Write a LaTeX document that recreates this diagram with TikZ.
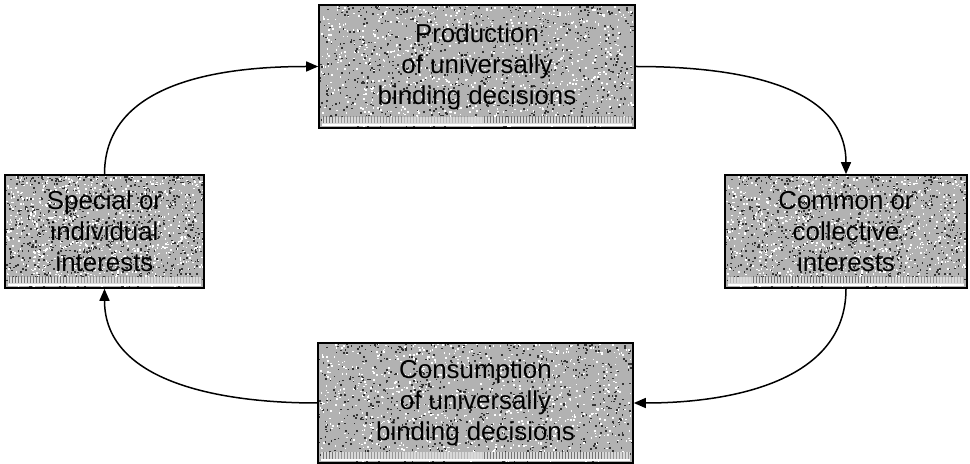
\documentclass[tikz,border=0pt]{standalone}
\usepackage{fontspec}
\setmainfont{Liberation Sans}
\usetikzlibrary{patterns,arrows.meta}
\begin{document}
\begin{tikzpicture}[x=1bp,y=-1bp,
  tbox/.style n args={2}{draw=black, line width=1.6bp, fill=black!30,
    minimum width=#1 bp, minimum height=#2 bp, inner sep=0pt,
    align=center, font=\fontsize{26}{31}\selectfont,
    path picture={
      \pgfmathsetseed{7}
      \foreach \k in {1,...,900}{
        \fill[black!80] ([shift={({rnd*#1},{rnd*#2})}]path picture bounding box.north west) rectangle +(1.6,1.6);
        \fill[white] ([shift={({rnd*#1},{rnd*#2})}]path picture bounding box.north west) rectangle +(1.6,1.6);
      }
      \fill[black!15] ([shift={(3,-3)}]path picture bounding box.south west) rectangle ([shift={(-3,-11)}]path picture bounding box.south east);
      \fill[pattern=vertical lines, pattern color=black!55] ([shift={(3,-5)}]path picture bounding box.south west) rectangle ([shift={(-3,-11)}]path picture bounding box.south east);
      \draw[white, line width=1.2bp] ([shift={(3,-3)}]path picture bounding box.south west) -- ([shift={(-3,-3)}]path picture bounding box.south east);
    }},
  arr/.style={line width=1.5bp, -{Triangle[length=12bp,width=10bp]}}]
\useasboundingbox (0,0) rectangle (970,464);
\node[tbox={316}{123}] (T) at (477,66.5) {Production\\of universally\\binding decisions};
\node[tbox={199}{113}] (L) at (104.5,231.5) {Special or\\individual\\interests};
\node[tbox={242}{113}] (R) at (846,231.5) {Common or\\collective\\interests};
\node[tbox={315}{120}] (B) at (475.5,403) {Consumption\\of universally\\binding decisions};
\draw[arr] (L.north) to[out=90,in=180] (T.west);
\draw[arr] (T.east) to[out=0,in=90] (R.north);
\draw[arr] (R.south) to[out=-90,in=0] (B.east);
\draw[arr] (B.west) to[out=180,in=-90] (L.south);
\end{tikzpicture}
\end{document}
